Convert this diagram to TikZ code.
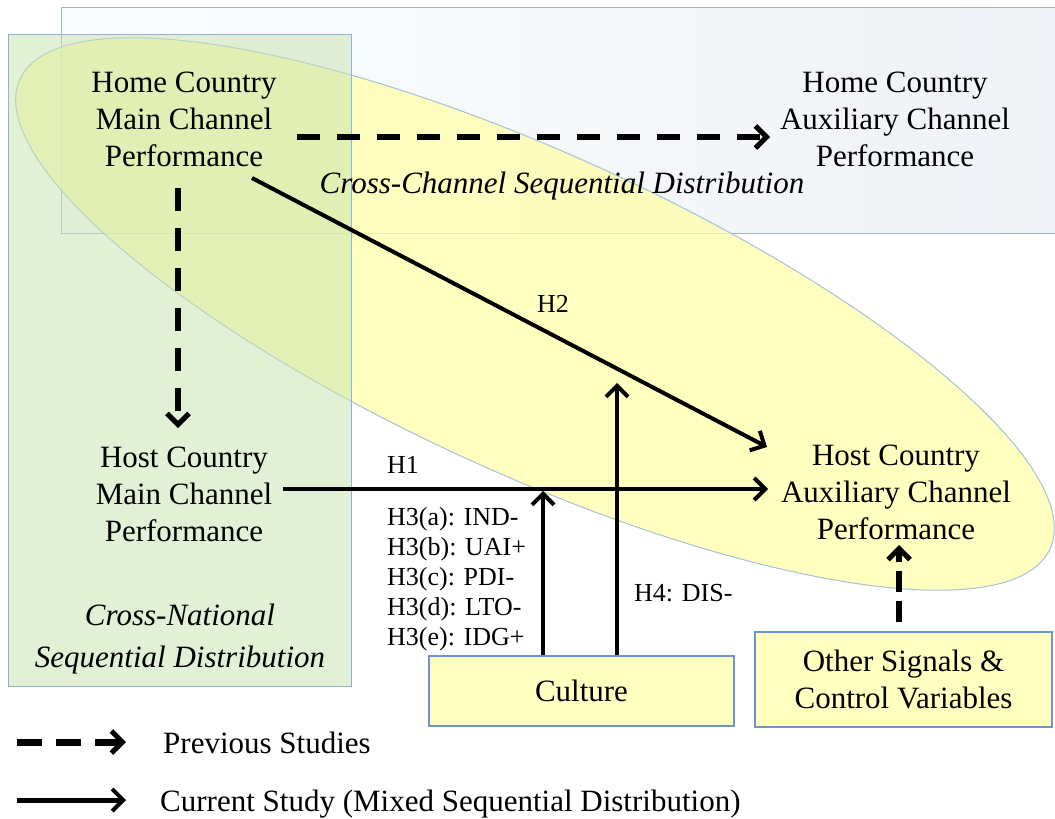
\documentclass[tikz,border=0pt]{standalone}
\usepackage{fontspec}
\setmainfont{Liberation Serif}
\usetikzlibrary{arrows.meta}
\definecolor{topline}{HTML}{9EB4CE}
\definecolor{topleft}{HTML}{FBFCFD}
\definecolor{topgray}{HTML}{EFF2F6}
\definecolor{elline}{HTML}{A9C0D6}
\definecolor{ellfill}{HTML}{FFFFAA}
\definecolor{leftgreen}{HTML}{C6E2AE}
\definecolor{leftline}{HTML}{8FB1DB}
\definecolor{boxfill}{HTML}{FFFFC0}
\definecolor{boxline}{HTML}{6E95C8}
\begin{document}
\begin{tikzpicture}[x=1pt,y=-1pt,
  txt/.style={font=\fontsize{31}{37}\selectfont, align=center, inner sep=0pt},
  itxt/.style={font=\fontsize{31}{42}\selectfont\itshape, align=center, inner sep=0pt},
  lbl/.style={font=\fontsize{26}{30}\selectfont, inner sep=0pt},
  solidarrow/.style={line width=4pt, -{Straight Barb[length=11pt,width=22pt,line width=4pt]}},
  dasharrow/.style={line width=6pt, dash pattern=on 23pt off 17pt, -{Straight Barb[length=11pt,width=22pt,line width=5pt]}},
  bbox/.style={draw=boxline, line width=1.5pt, fill=boxfill}
]
\useasboundingbox (0,0) rectangle (1055,819);
\clip (0,0) rectangle (1055,819);
\fill[white] (0,0) rectangle (1055,819);
% background regions
\path[draw=topline, line width=1pt, left color=topleft, right color=topgray] (61,7) rectangle (1075,233);
\begin{scope}[shift={(535,314)}, rotate=-24.5]
  \path[fill=ellfill, fill opacity=0.75, draw=elline, line width=1pt] (0,0) ellipse [x radius=566pt, y radius=160pt];
\end{scope}
\path[fill=leftgreen, fill opacity=0.5, draw=leftline, line width=1pt] (8,34) rectangle (351,686);
% text nodes
\node[txt] (homeM) at (184,119.5) {Home Country\\Main Channel\\Performance};
\node[txt] (homeA) at (895,119.5) {Home Country\\Auxiliary Channel\\Performance};
\node[txt] (hostM) at (184,494.5) {Host Country\\Main Channel\\Performance};
\node[txt] (hostA) at (896,492.5) {Host Country\\Auxiliary Channel\\Performance};
\node[itxt] (natl) at (180,639) {Cross-National\\Sequential Distribution};
\node[itxt, anchor=base] (chan) at (562,193) {Cross-Channel Sequential Distribution};
% boxes
\node[bbox, txt, minimum width=305pt, minimum height=70pt] (culture) at (581.5,691) {Culture};
\node[bbox, txt, minimum width=297pt, minimum height=95pt] (other) at (903.5,679.5) {Other Signals \&\\Control Variables};
% labels
\node[lbl, anchor=base west] (h1) at (387,473) {H1};
\node[lbl, anchor=base] (h2) at (553,312) {H2};
\node[lbl, anchor=base west] (h4) at (634,601) {H4: DIS-};
\node[lbl, align=left, anchor=north west] (h3) at (387,507) {H3(a): IND-\\H3(b): UAI+\\H3(c): PDI-\\H3(d): LTO-\\H3(e): IDG+};
% arrow end points
\coordinate (a1s) at (297,137); \coordinate (a1e) at (770,137);
\coordinate (a2s) at (178,188); \coordinate (a2e) at (178,428);
\coordinate (a3s) at (252,178); \coordinate (a3e) at (767,447);
\coordinate (a4s) at (283,489); \coordinate (a4e) at (768,489);
\coordinate (a5e) at (543,491);
\coordinate (a6e) at (617,383);
\coordinate (a7e) at (899,545);
% arrows
\draw[dasharrow] (a1s) -- (a1e);
\draw[dasharrow] (a2s) -- (a2e);
\draw[solidarrow] (a3s) -- (a3e);
\draw[solidarrow] (a4s) -- (a4e);
\draw[solidarrow] (culture.north -| a5e) -- (a5e);
\draw[solidarrow] (culture.north -| a6e) -- (a6e);
\draw[dasharrow, dash pattern=on 21pt off 9pt, dash phase=21pt] (other.north -| a7e) -- (a7e);
% legend
\coordinate (l1s) at (17,742); \coordinate (l1e) at (126,742);
\coordinate (l2s) at (17,800); \coordinate (l2e) at (126,800);
\draw[dasharrow, line width=7pt, dash pattern=on 25pt off 14pt] (l1s) -- (l1e);
\draw[solidarrow, line width=5pt] (l2s) -- (l2e);
\node[txt, anchor=base west] (prev) at (163,753) {Previous Studies};
\node[txt, anchor=base west] (curr) at (160,811) {Current Study (Mixed Sequential Distribution)};
\end{tikzpicture}
\end{document}
